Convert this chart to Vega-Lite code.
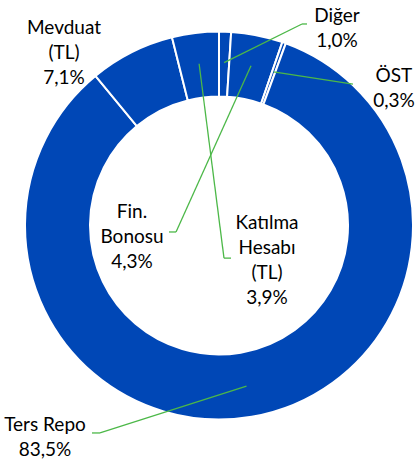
{
  "$schema": "https://vega.github.io/schema/vega-lite/v6.json",
  "width": 396,
  "height": 451,
  "autosize": {"type": "none"},
  "padding": {"left": 21, "top": 0, "right": 0, "bottom": 15},
  "background": "white",
  "config": {
    "view": {"stroke": null},
    "text": {"font": "Lato", "fontSize": 19, "lineHeight": 25, "color": "#000000"}
  },
  "data": {
    "values": [
      {"kategori": "Diğer", "pay": 1.0, "sira": 1},
      {"kategori": "Fin. Bonosu", "pay": 4.3, "sira": 2},
      {"kategori": "ÖST", "pay": 0.3, "sira": 3},
      {"kategori": "Ters Repo", "pay": 83.5, "sira": 4},
      {"kategori": "Mevduat (TL)", "pay": 7.1, "sira": 5},
      {"kategori": "Katılma Hesabı (TL)", "pay": 3.9, "sira": 6}
    ]
  },
  "transform": [
    {"joinaggregate": [{"op": "sum", "field": "pay", "as": "toplam"}]},
    {"window": [{"op": "sum", "field": "pay", "as": "kumulatif"}], "sort": [{"field": "sira"}], "frame": [null, 0]},
    {"calculate": "2*PI*(datum.kumulatif - datum.pay/2)/datum.toplam", "as": "orta"},
    {"calculate": "0.8402*sin(datum.orta)", "as": "ax"},
    {"calculate": "0.8402*cos(datum.orta)", "as": "ay"},
    {"calculate": "(datum.kategori == 'Ters Repo' ? datum.kategori : replace(datum.kategori, regexp(' ', 'g'), '\\n')) + '\\n' + replace(format(datum.pay, '.1f'), '.', ',') + '%'", "as": "etiket"}
  ],
  "layer": [
    {
      "mark": {"type": "arc", "innerRadius": 129, "outerRadius": 194, "stroke": "white", "strokeWidth": 2, "color": "#0047B6"},
      "encoding": {
        "theta": {"field": "pay", "type": "quantitative", "stack": true},
        "order": {"field": "sira", "type": "quantitative"}
      }
    },
    {
      "encoding": {
        "x": {"field": "ax", "type": "quantitative", "axis": null, "scale": {"domain": [-1.02062, 1.02062], "nice": false, "zero": false}},
        "y": {"field": "ay", "type": "quantitative", "axis": null, "scale": {"domain": [-1.16237, 1.16237], "nice": false, "zero": false}}
      },
      "layer": [
        {
          "transform": [{"filter": "datum.kategori == 'Diğer'"}],
          "mark": {"type": "rule", "color": "#4CB848", "strokeWidth": 1.3, "x2Offset": 77.9, "y2Offset": -38.6},
          "encoding": {"x2": {"field": "ax"}, "y2": {"field": "ay"}}
        },
        {
          "transform": [{"filter": "datum.kategori == 'Diğer'"}],
          "mark": {"type": "rule", "color": "#4CB848", "strokeWidth": 1.3, "xOffset": 77.9, "yOffset": -38.6, "x2Offset": 82.9, "y2Offset": -38.6},
          "encoding": {"x2": {"field": "ax"}, "y2": {"field": "ay"}}
        },
        {
          "transform": [{"filter": "datum.kategori == 'Fin. Bonosu'"}],
          "mark": {"type": "rule", "color": "#4CB848", "strokeWidth": 1.3, "x2Offset": -75, "y2Offset": 166.3},
          "encoding": {"x2": {"field": "ax"}, "y2": {"field": "ay"}}
        },
        {
          "transform": [{"filter": "datum.kategori == 'Fin. Bonosu'"}],
          "mark": {"type": "rule", "color": "#4CB848", "strokeWidth": 1.3, "xOffset": -75, "yOffset": 166.3, "x2Offset": -82, "y2Offset": 166.3},
          "encoding": {"x2": {"field": "ax"}, "y2": {"field": "ay"}}
        },
        {
          "transform": [{"filter": "datum.kategori == 'ÖST'"}],
          "mark": {"type": "rule", "color": "#4CB848", "strokeWidth": 1.3, "x2Offset": 79.3, "y2Offset": 12.1},
          "encoding": {"x2": {"field": "ax"}, "y2": {"field": "ay"}}
        },
        {
          "transform": [{"filter": "datum.kategori == 'Ters Repo'"}],
          "mark": {"type": "rule", "color": "#4CB848", "strokeWidth": 1.3, "x2Offset": -146.5, "y2Offset": 46.8},
          "encoding": {"x2": {"field": "ax"}, "y2": {"field": "ay"}}
        },
        {
          "transform": [{"filter": "datum.kategori == 'Ters Repo'"}],
          "mark": {"type": "rule", "color": "#4CB848", "strokeWidth": 1.3, "xOffset": -146.5, "yOffset": 46.8, "x2Offset": -154.5, "y2Offset": 46.8},
          "encoding": {"x2": {"field": "ax"}, "y2": {"field": "ay"}}
        },
        {
          "transform": [{"filter": "datum.kategori == 'Katılma Hesabı (TL)'"}],
          "mark": {"type": "rule", "color": "#4CB848", "strokeWidth": 1.3, "x2Offset": 24.9, "y2Offset": 194.4},
          "encoding": {"x2": {"field": "ax"}, "y2": {"field": "ay"}}
        },
        {
          "transform": [{"filter": "datum.kategori == 'Katılma Hesabı (TL)'"}],
          "mark": {"type": "rule", "color": "#4CB848", "strokeWidth": 1.3, "xOffset": 24.9, "yOffset": 194.4, "x2Offset": 31.9, "y2Offset": 194.4},
          "encoding": {"x2": {"field": "ax"}, "y2": {"field": "ay"}}
        },
        {
          "transform": [{"filter": "datum.kategori == 'Diğer'"}],
          "mark": {"type": "text", "align": "center", "baseline": "middle", "lineBreak": "\n", "dx": 112.9, "dy": -46.1},
          "encoding": {"text": {"field": "etiket"}}
        },
        {
          "transform": [{"filter": "datum.kategori == 'Fin. Bonosu'"}],
          "mark": {"type": "text", "align": "center", "baseline": "middle", "lineBreak": "\n", "dx": -119, "dy": 146.3},
          "encoding": {"text": {"field": "etiket"}}
        },
        {
          "transform": [{"filter": "datum.kategori == 'ÖST'"}],
          "mark": {"type": "text", "align": "center", "baseline": "middle", "lineBreak": "\n", "dx": 120.3, "dy": 4.1},
          "encoding": {"text": {"field": "etiket"}}
        },
        {
          "transform": [{"filter": "datum.kategori == 'Ters Repo'"}],
          "mark": {"type": "text", "align": "center", "baseline": "middle", "lineBreak": "\n", "dx": -201.5, "dy": 38.8},
          "encoding": {"text": {"field": "etiket"}}
        },
        {
          "transform": [{"filter": "datum.kategori == 'Katılma Hesabı (TL)'"}],
          "mark": {"type": "text", "align": "center", "baseline": "middle", "lineBreak": "\n", "dx": 67.9, "dy": 159.4},
          "encoding": {"text": {"field": "etiket"}}
        },
        {
          "transform": [{"filter": "datum.kategori == 'Mevduat (TL)'"}],
          "mark": {"type": "text", "align": "center", "baseline": "middle", "lineBreak": "\n", "dx": -81.5, "dy": -52},
          "encoding": {"text": {"field": "etiket"}}
        }
      ]
    }
  ]
}
